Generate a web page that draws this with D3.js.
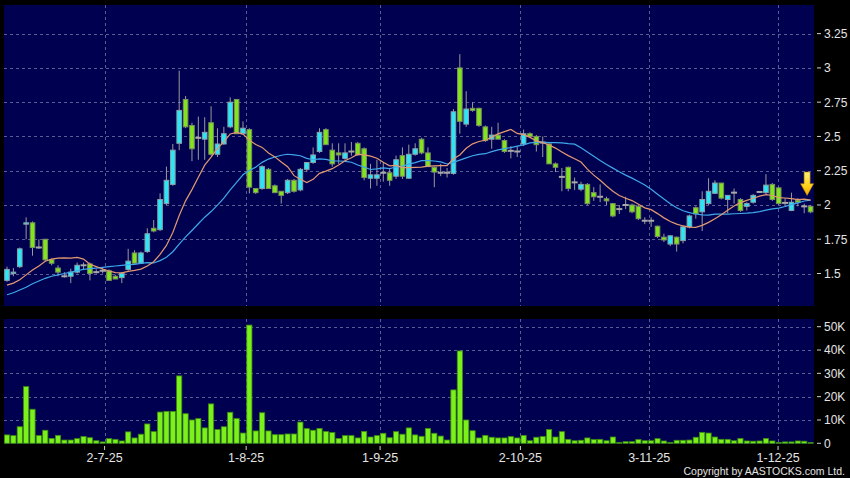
<!DOCTYPE html>
<html><head><meta charset="utf-8">
<script src="https://cdn.jsdelivr.net/npm/d3@7"></script>
<style>html,body{margin:0;padding:0;background:#000;overflow:hidden}</style>
</head><body>
<svg id="c" width="850" height="478"></svg>
<script>
// ---------- data ----------
const opens = [1.45,1.50,1.55,1.86,1.87,1.69,1.75,1.60,1.54,1.48,
1.48,1.51,1.56,1.57,1.51,1.52,1.52,1.48,1.47,1.53,
1.65,1.575,1.66,1.83,1.82,2.01,2.15,2.45,2.77,2.58,
2.49,2.48,2.60,2.37,2.445,2.57,2.77,2.52,2.55,2.12,
2.12,2.26,2.14,2.10,2.09,2.18,2.11,2.26,2.31,2.39,
2.55,2.40,2.38,2.34,2.39,2.45,2.41,2.195,2.195,2.235,
2.235,2.21,2.36,2.195,2.37,2.48,2.38,2.275,2.235,2.235,
2.23,3.00,2.59,2.705,2.705,2.57,2.48,2.51,2.47,2.395,
2.39,2.445,2.52,2.50,2.455,2.445,2.30,2.205,2.275,2.165,
2.115,2.15,2.09,2.06,2.045,2.01,1.97,2.00,2.00,1.99,
1.885,1.885,1.845,1.765,1.715,1.765,1.74,1.84,1.98,1.95,
2.01,2.085,2.16,2.04,2.09,2.04,1.99,2.02,2.095,2.09,
2.15,2.125,2.015,1.96,2.035,1.99,1.99];
const highs = [1.55,1.54,1.69,1.91,1.88,1.75,1.75,1.61,1.56,1.51,
1.535,1.58,1.58,1.58,1.53,1.54,1.53,1.49,1.51,1.68,
1.67,1.66,1.83,1.89,2.085,2.28,2.445,2.98,2.795,2.60,
2.645,2.64,2.72,2.56,2.57,2.785,2.77,2.61,2.56,2.12,
2.29,2.27,2.15,2.10,2.19,2.19,2.27,2.31,2.42,2.56,
2.56,2.45,2.45,2.45,2.46,2.46,2.42,2.30,2.33,2.31,
2.27,2.36,2.42,2.44,2.45,2.49,2.42,2.28,2.30,2.27,
2.70,3.10,2.83,2.75,2.71,2.58,2.57,2.60,2.48,2.43,
2.43,2.55,2.53,2.51,2.50,2.45,2.31,2.27,2.28,2.20,
2.17,2.16,2.13,2.15,2.06,2.015,2.00,2.06,2.01,2.00,
1.91,1.91,1.85,1.79,1.78,1.77,1.85,1.93,1.99,2.10,
2.195,2.18,2.16,2.07,2.12,2.05,2.02,2.08,2.10,2.225,
2.16,2.13,2.05,2.09,2.05,2.01,2.00];
const lows = [1.44,1.48,1.54,1.75,1.63,1.68,1.59,1.56,1.48,1.47,
1.43,1.50,1.53,1.45,1.50,1.50,1.45,1.46,1.43,1.52,
1.57,1.57,1.65,1.80,1.81,2.00,2.14,2.40,2.56,2.32,
2.33,2.33,2.36,2.35,2.44,2.56,2.52,2.52,2.085,2.08,
2.11,2.12,2.09,2.01,2.08,2.09,2.10,2.24,2.30,2.38,
2.44,2.28,2.30,2.33,2.36,2.36,2.18,2.12,2.14,2.17,
2.14,2.19,2.19,2.19,2.36,2.37,2.28,2.13,2.21,2.20,
2.22,2.52,2.57,2.68,2.57,2.46,2.41,2.48,2.38,2.34,
2.35,2.43,2.49,2.39,2.35,2.30,2.24,2.10,2.10,2.11,
2.10,2.00,2.03,2.02,2.00,1.91,1.935,1.97,1.94,1.89,
1.86,1.84,1.76,1.73,1.70,1.66,1.72,1.83,1.90,1.81,
2.00,2.08,2.04,1.94,2.01,1.95,1.96,2.01,2.09,2.08,
2.03,2.00,2.00,1.955,1.99,1.94,1.94];
const closes = [1.53,1.51,1.68,1.87,1.69,1.69,1.60,1.575,1.51,1.48,
1.51,1.56,1.56,1.50,1.51,1.52,1.45,1.46,1.50,1.59,
1.575,1.65,1.79,1.81,2.04,2.18,2.40,2.69,2.57,2.41,
2.49,2.53,2.37,2.445,2.52,2.75,2.52,2.56,2.13,2.09,
2.28,2.12,2.09,2.07,2.18,2.10,2.26,2.31,2.365,2.53,
2.44,2.30,2.365,2.38,2.39,2.365,2.20,2.22,2.22,2.235,
2.18,2.33,2.21,2.37,2.41,2.38,2.28,2.24,2.235,2.235,
2.68,2.61,2.70,2.69,2.58,2.47,2.51,2.48,2.39,2.395,
2.39,2.52,2.50,2.44,2.455,2.30,2.275,2.205,2.12,2.165,
2.15,2.01,2.06,2.06,2.03,1.92,1.97,2.00,1.95,1.90,
1.885,1.885,1.77,1.745,1.775,1.715,1.84,1.92,1.935,2.04,
2.10,2.16,2.05,2.07,2.09,1.96,2.01,2.07,2.095,2.145,
2.04,2.01,2.015,2.02,2.02,1.99,1.95];
const volumesK = [3.6,3.3,7.1,24.3,14.6,3.3,5.6,2.1,3.4,1.4,
1.4,2.0,2.9,2.4,1.1,0.6,2.0,1.7,1.0,4.9,
2.3,3.9,8.3,5.0,13.4,13.7,13.7,28.9,12.7,10.0,
10.6,6.6,16.9,5.9,7.1,13.3,10.6,4.4,50.7,5.3,
13.1,5.3,3.7,3.7,4.0,4.0,9.1,6.3,5.6,6.4,
5.1,4.6,2.1,3.3,3.3,2.3,5.1,2.7,3.3,4.3,
2.4,5.0,3.9,6.6,3.6,3.0,6.4,4.3,3.1,1.4,
22.9,39.6,10.0,5.4,2.3,3.4,2.6,2.3,2.3,2.9,
2.3,3.4,1.1,2.6,2.9,5.9,2.7,5.0,1.7,1.1,
1.3,2.3,1.6,1.7,1.1,2.7,0.4,0.7,0.7,1.6,
1.1,1.1,2.0,1.0,0.4,1.3,1.3,1.4,2.6,4.7,
4.4,2.7,1.7,1.7,1.1,2.1,1.0,0.9,1.0,2.1,
1.0,0.4,0.6,0.6,1.0,0.9,0.3];
const ma10 = [1.415,1.43,1.455,1.49,1.525,1.555,1.59,1.605,1.612,1.614,
1.612,1.617,1.605,1.568,1.550,1.533,1.518,1.506,1.505,1.516,
1.523,1.532,1.555,1.586,1.639,1.705,1.800,1.923,2.030,2.112,
2.203,2.291,2.349,2.413,2.461,2.518,2.530,2.517,2.473,2.441,
2.420,2.379,2.351,2.313,2.279,2.214,2.188,2.163,2.187,2.231,
2.247,2.265,2.292,2.323,2.344,2.371,2.365,2.356,2.341,2.312,
2.286,2.289,2.273,2.272,2.274,2.276,2.284,2.286,2.287,2.287,
2.337,2.365,2.414,2.446,2.463,2.472,2.495,2.519,2.535,2.551,
2.522,2.513,2.493,2.468,2.455,2.438,2.415,2.387,2.360,2.337,
2.313,2.262,2.218,2.180,2.138,2.100,2.069,2.049,2.032,2.005,
1.979,1.966,1.937,1.906,1.880,1.860,1.847,1.839,1.837,1.851,
1.873,1.900,1.928,1.961,1.992,2.017,2.034,2.049,2.065,2.075,
2.069,2.054,2.051,2.046,2.039,2.042,2.036];
const ma20 = [1.345,1.36,1.38,1.40,1.425,1.445,1.465,1.48,1.49,1.50,
1.51,1.52,1.53,1.535,1.54,1.545,1.55,1.555,1.56,1.565,
1.567,1.574,1.580,1.577,1.594,1.619,1.659,1.714,1.767,1.814,
1.863,1.911,1.952,1.999,2.050,2.111,2.165,2.220,2.251,2.276,
2.311,2.335,2.350,2.363,2.370,2.366,2.359,2.340,2.330,2.336,
2.333,2.322,2.321,2.318,2.312,2.292,2.276,2.259,2.264,2.271,
2.266,2.277,2.283,2.298,2.309,2.323,2.324,2.321,2.314,2.299,
2.311,2.327,2.344,2.359,2.369,2.374,2.389,2.402,2.411,2.419,
2.429,2.439,2.453,2.457,2.459,2.455,2.455,2.453,2.447,2.444,
2.417,2.387,2.355,2.324,2.296,2.269,2.242,2.218,2.196,2.171,
2.146,2.114,2.078,2.043,2.009,1.980,1.958,1.944,1.934,1.928,
1.926,1.933,1.933,1.933,1.936,1.938,1.940,1.944,1.951,1.963,
1.971,1.977,1.989,2.003,2.015,2.029,2.035];
const xTickLabels = ["2-7-25","1-8-25","1-9-25","2-10-25","3-11-25","1-12-25"];
const xTickIndex = [15.3, 37.5, 58.5, 80.5, 100.7, 120.9];
const priceTicks = [1.5,1.75,2,2.25,2.5,2.75,3,3.25];
const volTicksK = [0,10,20,30,40,50];
const copyright = "Copyright by AASTOCKS.com Ltd.";

// ---------- layout ----------
const svg = d3.select("#c");
const P = {x0:4, x1:814, top:5, bottom:306};
const V = {top:319, bottom:444, base:443.3};
const n = closes.length;
const xs = d3.scaleLinear().domain([0, n-1]).range([7, 810.6]);
const ys = d3.scaleLinear().domain([1.263, 3.459]).range([P.bottom, P.top]);
const yv = d3.scaleLinear().domain([0, 53.3]).range([V.base, V.top]);

const panelFill = "#000050", gridCol = "#5c5c92", textCol = "#e4e4e4";
const font = "'Liberation Sans', Arial, sans-serif";

svg.append("rect").attr("width",850).attr("height",478).attr("fill","#000");
svg.append("rect").attr("x",P.x0).attr("y",P.top).attr("width",P.x1-P.x0).attr("height",P.bottom-P.top).attr("fill",panelFill);
svg.append("rect").attr("x",P.x0).attr("y",V.top).attr("width",P.x1-P.x0).attr("height",V.bottom-V.top).attr("fill",panelFill);

// grid
const g = svg.append("g").attr("stroke",gridCol).attr("stroke-width",1).attr("stroke-dasharray","3,3");
priceTicks.forEach(t=>g.append("line").attr("x1",P.x0).attr("x2",P.x1).attr("y1",Math.round(ys(t))+0.5).attr("y2",Math.round(ys(t))+0.5));
volTicksK.filter(t=>t>0).forEach(t=>g.append("line").attr("x1",P.x0).attr("x2",P.x1).attr("y1",Math.round(yv(t))+0.5).attr("y2",Math.round(yv(t))+0.5));
xTickIndex.forEach(t=>{
  const x = Math.round(xs(t))+0.5;
  g.append("line").attr("x1",x).attr("x2",x).attr("y1",P.top).attr("y2",P.bottom);
  g.append("line").attr("x1",x).attr("x2",x).attr("y1",V.top).attr("y2",V.bottom);
});

// candles
const idx = d3.range(n);
const cg = svg.append("g");
cg.selectAll("line.wick").data(idx).join("line").attr("class","wick")
  .attr("x1",i=>xs(i)).attr("x2",i=>xs(i))
  .attr("y1",i=>ys(highs[i])).attr("y2",i=>ys(lows[i]))
  .attr("stroke","#9a9a9a").attr("stroke-width",1);
const bw = 4.6;
cg.selectAll("rect.body").data(idx.filter(i=>Math.abs(closes[i]-opens[i])>0.004)).join("rect").attr("class","body")
  .attr("x",i=>xs(i)-bw/2).attr("width",bw)
  .attr("y",i=>ys(Math.max(opens[i],closes[i])))
  .attr("height",i=>Math.max(1,Math.abs(ys(opens[i])-ys(closes[i]))))
  .attr("fill",i=>closes[i]>opens[i]?"#2be6f6":"#82e41c")
  .attr("stroke",i=>closes[i]>opens[i]?"#8aa0a8":"#7a9060").attr("stroke-width",1);
cg.selectAll("line.doji").data(idx.filter(i=>Math.abs(closes[i]-opens[i])<=0.004)).join("line").attr("class","doji")
  .attr("x1",i=>xs(i)-3).attr("x2",i=>xs(i)+3)
  .attr("y1",i=>ys(closes[i])).attr("y2",i=>ys(closes[i]))
  .attr("stroke","#a8a8a8").attr("stroke-width",2);

// moving averages
const line = arr => d3.line().x((d,i)=>xs(i)).y(d=>ys(d))(arr);
svg.append("path").attr("d",line(ma20)).attr("fill","none").attr("stroke","#3ea8ea").attr("stroke-width",1.2);
svg.append("path").attr("d",line(ma10)).attr("fill","none").attr("stroke","#e39a70").attr("stroke-width",1.2);

// volume
svg.append("g").selectAll("rect").data(idx).join("rect")
  .attr("x",i=>xs(i)-2.6).attr("width",5.2)
  .attr("y",i=>yv(volumesK[i])).attr("height",i=>V.base-yv(volumesK[i]))
  .attr("fill","#7cf01a").attr("stroke","#3b8a12").attr("stroke-width",0.8);

// arrow marker above the last candle
const defs = svg.append("defs");
const grad = defs.append("linearGradient").attr("id","ag").attr("x1",0).attr("y1",0).attr("x2",0).attr("y2",1);
grad.append("stop").attr("offset","0%").attr("stop-color","#fff27a");
grad.append("stop").attr("offset","60%").attr("stop-color","#ffd21a");
grad.append("stop").attr("offset","100%").attr("stop-color","#f0a800");
const ax = xs(n-1)-3.5, aTop = ys(2.24), aBot = ys(2.07);
const aMid = aTop + (aBot-aTop)*0.5;
svg.append("path")
  .attr("d",`M${ax-3},${aTop} L${ax+3},${aTop} L${ax+3},${aMid} L${ax+6.5},${aMid} L${ax},${aBot} L${ax-6.5},${aMid} L${ax-3},${aMid} Z`)
  .attr("fill","url(#ag)").attr("stroke","#c08000").attr("stroke-width",0.6);

// axes text
const tg = svg.append("g").attr("font-family",font).attr("font-size",12).attr("fill",textCol);
priceTicks.forEach(t=>{
  const y = ys(t);
  svg.append("line").attr("x1",817).attr("x2",821).attr("y1",y).attr("y2",y).attr("stroke","#cfcfcf");
  tg.append("text").attr("x",824).attr("y",y).attr("dy","0.36em").text(String(t));
});
volTicksK.forEach(t=>{
  const y = yv(t);
  svg.append("line").attr("x1",817).attr("x2",821).attr("y1",y).attr("y2",y).attr("stroke","#cfcfcf");
  tg.append("text").attr("x",824).attr("y",y).attr("dy","0.36em").text(t===0?"0":t+"K");
});
xTickIndex.forEach((t,k)=>{
  const x = xs(t);
  svg.append("line").attr("x1",x).attr("x2",x).attr("y1",446).attr("y2",450).attr("stroke","#cfcfcf");
  tg.append("text").attr("x",x).attr("y",462).attr("text-anchor","middle").attr("font-size",12.5).text(xTickLabels[k]);
});
tg.append("text").attr("x",845).attr("y",475).attr("text-anchor","end").attr("font-size",10.5).text(copyright);
</script>
</body></html>
